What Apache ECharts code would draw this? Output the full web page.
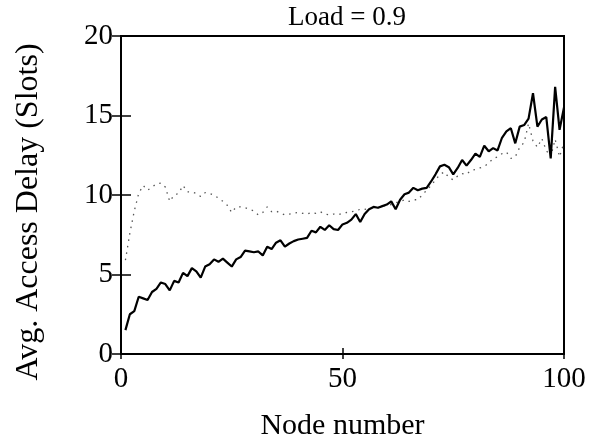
<!DOCTYPE html>
<html>
<head>
<meta charset="utf-8">
<script src="https://cdn.jsdelivr.net/npm/echarts@6/dist/echarts.min.js"></script>
<style>
  html, body { margin: 0; padding: 0; background: #fff; }
  #chart { width: 598px; height: 442px; }
</style>
</head>
<body>
<div id="chart"></div>
<script>
// Node index 1..100
const nodes = Array.from({ length: 100 }, (_, i) => i + 1);

// Average access delay per node (slots), solid curve
const delaySolid = [
  1.5, 2.5, 2.7, 3.6, 3.5, 3.4, 3.9, 4.1, 4.5, 4.4,
  4.0, 4.6, 4.5, 5.1, 4.9, 5.4, 5.2, 4.8, 5.5, 5.65,
  5.95, 5.8, 6.0, 5.75, 5.5, 5.95, 6.1, 6.5, 6.45, 6.4,
  6.45, 6.2, 6.75, 6.6, 7.0, 7.15, 6.75, 6.95, 7.1, 7.2,
  7.25, 7.3, 7.75, 7.65, 8.0, 7.8, 8.1, 7.85, 7.8, 8.15,
  8.25, 8.45, 8.8, 8.3, 8.8, 9.1, 9.25, 9.2, 9.3, 9.4,
  9.6, 9.1, 9.7, 10.05, 10.15, 10.45, 10.3, 10.4, 10.45, 10.85,
  11.3, 11.8, 11.9, 11.75, 11.3, 11.7, 12.2, 11.85, 12.2, 12.6,
  12.4, 13.1, 12.75, 12.95, 12.8, 13.6, 14.0, 14.2, 13.25, 14.3,
  14.4, 14.8, 16.4, 14.3, 14.75, 14.9, 12.3, 16.8, 14.1, 15.5
];

// Average access delay per node (slots), dotted curve
const delayDotted = [
  5.9, 7.6, 9.0, 10.1, 10.6, 10.3, 10.5, 10.7, 10.75, 10.5,
  9.6, 10.0, 10.1, 10.6, 10.2, 10.2, 10.1, 9.9, 10.15, 10.1,
  10.0, 9.8, 9.6, 9.35, 8.9, 9.25, 9.25, 9.2, 9.1, 9.0,
  8.75, 8.9, 9.25, 8.95, 9.0, 8.85, 8.75, 8.8, 8.85, 8.9,
  8.85, 8.8, 8.9, 8.85, 8.95, 8.8, 8.75, 8.8, 8.75, 8.85,
  8.9, 8.95, 9.0, 9.1, 9.1, 9.15, 9.2, 9.2, 9.3, 9.35,
  9.4, 9.5, 9.6, 9.7, 9.6, 9.7, 9.7, 10.0, 10.3, 10.6,
  10.95, 11.3, 11.45, 11.1, 10.95, 11.2, 11.35, 11.3, 11.55, 11.6,
  11.7, 11.8, 12.0, 12.3, 12.4, 12.6, 12.7, 12.3, 12.4, 13.0,
  13.3, 14.5, 13.4, 13.0, 13.55, 12.8, 12.4, 13.5, 12.4, 13.3
];

const xTicks = [0, 50, 100];
const yTicks = [0, 5, 10, 15, 20];

const titleText = 'Load = 0.9';
const xName = 'Node number';
const yName = 'Avg. Access Delay (Slots)';

const FONT = '"Liberation Serif", "DejaVu Serif", serif';

const pairs = (vals) => nodes.map((n, i) => [n, vals[i]]);

const chart = echarts.init(document.getElementById('chart'), null, { renderer: 'canvas' });

const tickStyle = { color: '#000', width: 1.5 };

chart.setOption({
  animation: false,
  backgroundColor: '#fff',
  title: {
    text: titleText,
    left: 342,
    top: -1,
    textAlign: 'center',
    textStyle: { fontFamily: FONT, fontSize: 27, fontWeight: 'normal', color: '#000' }
  },
  grid: {
    left: 121, right: 34, top: 36, bottom: 88,
    outerBoundsMode: 'none',
    show: true, borderColor: '#000', borderWidth: 2, backgroundColor: 'transparent'
  },
  xAxis: [
    {
      type: 'value', min: xTicks[0], max: xTicks[xTicks.length - 1], interval: 50,
      position: 'bottom',
      name: xName, nameLocation: 'middle', nameGap: 57,
      nameTextStyle: { fontFamily: FONT, fontSize: 30, color: '#000' },
      axisLine: { show: true, lineStyle: { color: '#000', width: 2 } },
      axisTick: { show: true, inside: true, length: 6, lineStyle: tickStyle },
      axisLabel: { fontFamily: FONT, fontSize: 29, color: '#000', margin: 11 },
      splitLine: { show: false }
    },
    {
      type: 'value', min: xTicks[0], max: xTicks[xTicks.length - 1], interval: 50,
      position: 'top',
      axisLine: { show: true, lineStyle: { color: '#000', width: 2 } },
      axisTick: { show: true, inside: true, length: 5, lineStyle: tickStyle },
      axisLabel: { show: false },
      splitLine: { show: false }
    }
  ],
  yAxis: [
    {
      type: 'value', min: yTicks[0], max: yTicks[yTicks.length - 1], interval: 5,
      position: 'left',
      name: yName, nameLocation: 'middle', nameGap: 76, nameRotate: 90,
      nameTextStyle: { fontFamily: FONT, fontSize: 32, color: '#000', padding: [0, 34, 0, 0] },
      axisLine: { show: true, lineStyle: { color: '#000', width: 2 } },
      axisTick: { show: true, inside: true, length: 10, lineStyle: tickStyle },
      axisLabel: { fontFamily: FONT, fontSize: 29, color: '#000', margin: 8 },
      splitLine: { show: false }
    },
    {
      type: 'value', min: yTicks[0], max: yTicks[yTicks.length - 1], interval: 5,
      position: 'right',
      axisLine: { show: true, lineStyle: { color: '#000', width: 2 } },
      axisTick: { show: true, inside: true, length: 9, lineStyle: tickStyle },
      axisLabel: { show: false },
      splitLine: { show: false }
    }
  ],
  series: [
    {
      type: 'line',
      data: pairs(delayDotted),
      showSymbol: false,
      lineStyle: { color: '#555', width: 1.3, type: [1.5, 5] },
      z: 2
    },
    {
      type: 'line',
      data: pairs(delaySolid),
      showSymbol: false,
      lineStyle: { color: '#000', width: 2.2 },
      z: 3
    }
  ]
});
</script>
</body>
</html>
